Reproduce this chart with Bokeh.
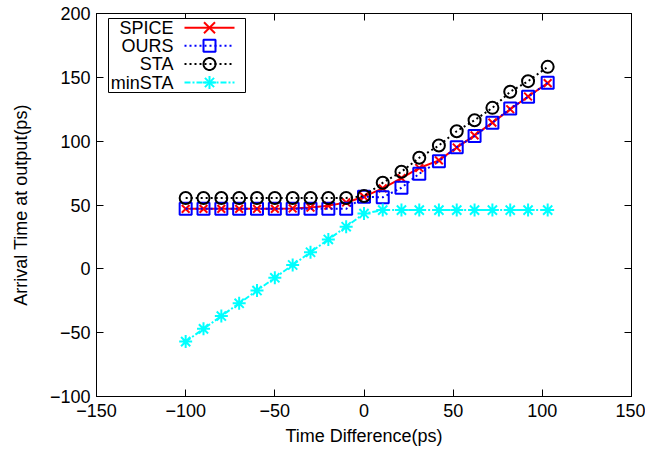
import math
from bokeh.plotting import figure
from bokeh.models import (Range1d, LinearAxis, BoxAnnotation, Arrow, Label,
                          PolyAnnotation, CustomJSTickFormatter, FixedTicker)
from bokeh.embed import file_html
from bokeh.resources import INLINE

# ---------------- data ----------------
time_diff = [-100, -90, -80, -70, -60, -50, -40, -30, -20, -10, 0,
             10.5, 21, 31, 42, 52, 62, 72, 82, 92, 103]
spice = [47, 47, 47, 47, 47, 47, 47.3, 48, 49.5, 52, 56.5,
         63, 71, 79, 85, 95, 104.5, 114.5, 125, 135, 145.5]
ours = [47, 47, 47, 47, 47, 47, 47, 47, 47, 47, 56.5,
        56, 63.5, 74.5, 84.3, 95.3, 104, 114.4, 125.5, 134.7, 145.7]
sta = [55.5, 55.5, 55.5, 55.5, 55.5, 55.5, 55.5, 55.5, 55.5, 55.5, 57,
       67.4, 76, 87, 96.6, 107.8, 116.4, 126.1, 138.7, 147, 158.2]
min_sta = [-57, -47, -37, -27, -17, -7, 3, 13, 23, 33, 43.3,
           46, 46, 46, 46, 46, 46, 46, 46, 46, 46]
series_names = ["SPICE", "OURS", "STA", "minSTA"]
x_ticks = [-150, -100, -50, 0, 50, 100, 150]
y_ticks = [-100, -50, 0, 50, 100, 150, 200]

# ---------------- layout / styles ----------------
FONT = "Liberation Sans"
FS = "18px"
FW, FH = 535, 383
BL, BT, BR, BB = 96, 13, 14, 58
X0, X1, Y0, Y1 = -150, 150, -100, 200

p = figure(frame_width=FW, frame_height=FH,
           x_range=Range1d(X0, X1), y_range=Range1d(Y0, Y1),
           output_backend="svg", toolbar_location=None,
           min_border_left=BL, min_border_top=BT,
           min_border_right=BR, min_border_bottom=BB,
           x_axis_label="Time Difference(ps)",
           y_axis_label="Arrival Time at output(ps)")
p.xgrid.visible = False
p.ygrid.visible = False
p.outline_line_color = "black"
p.outline_line_alpha = 1
p.background_fill_color = "white"
p.border_fill_color = "white"


def style_axis(ax, ticks, show_labels=True):
    ax.ticker = FixedTicker(ticks=ticks)
    ax.axis_line_color = "black"
    ax.axis_line_width = 1
    ax.major_tick_line_color = "black"
    ax.major_tick_line_width = 1
    ax.major_tick_in = 7
    ax.major_tick_out = 0
    ax.minor_tick_line_color = None
    ax.major_label_text_font = FONT
    ax.major_label_text_color = "black"
    if show_labels:
        ax.major_label_text_font_size = FS
    else:
        ax.formatter = CustomJSTickFormatter(code="return ''")
        ax.major_label_text_font_size = "1px"
        ax.major_label_standoff = 0


style_axis(p.xaxis[0], x_ticks)
style_axis(p.yaxis[0], y_ticks)
p.xaxis[0].major_label_standoff = 7
p.yaxis[0].major_label_standoff = 6
for ax in (p.xaxis[0], p.yaxis[0]):
    ax.axis_label_text_font = FONT
    ax.axis_label_text_font_size = FS
    ax.axis_label_text_font_style = "normal"
    ax.axis_label_text_color = "black"
p.xaxis[0].axis_label_standoff = 6
p.yaxis[0].axis_label_standoff = 16

top_ax = LinearAxis()
style_axis(top_ax, x_ticks, show_labels=False)
p.add_layout(top_ax, "above")
right_ax = LinearAxis()
style_axis(right_ax, y_ticks, show_labels=False)
p.add_layout(right_ax, "right")

# ---------------- series ----------------
p.line(time_diff, spice, line_color="red", line_width=2)
p.scatter(time_diff, spice, marker="x", size=11, line_color="red", line_width=2)

p.line(time_diff, ours, line_color="blue", line_width=2, line_dash="2 3")
p.scatter(time_diff, ours, marker="square", size=12, line_color="blue",
          fill_color=None, line_width=2)

p.line(time_diff, sta, line_color="black", line_width=2, line_dash="2 3")
p.scatter(time_diff, sta, marker="circle", size=12, line_color="black",
          fill_color=None, line_width=2)

p.line(time_diff, min_sta, line_color="cyan", line_width=2, line_dash="6 2 2 2")
p.scatter(time_diff, min_sta, marker="asterisk", size=13, line_color="cyan",
          line_width=2)

# ---------------- legend (drawn as annotations, label left of sample) ----------------
# pixel positions below are measured in the reference picture; frame top-left there is (96, 14)
REF_L, REF_T = 96, 14


def xd(px):
    return X0 + (px - REF_L) / FW * (X1 - X0)


def yd(py):
    return Y1 - (py - REF_T) / FH * (Y1 - Y0)


p.add_layout(BoxAnnotation(left=xd(108), right=xd(245), top=yd(19), bottom=yd(93),
                           fill_color="white", fill_alpha=1,
                           line_color="black", line_width=1, line_alpha=1))

leg_rows = [28.3, 46.2, 64.5, 83.0]
leg_colors = ["red", "blue", "black", "cyan"]
leg_dash = ["solid", "2 3", "2 3", "6 2 2 2"]
leg_marker = ["x", "square", "circle", "asterisk"]
SX0, SX1, TX = 184, 234, 173
CX = (SX0 + SX1) / 2


def seg(ax_, ay_, bx_, by_, color, dash="solid", w=2):
    p.add_layout(Arrow(x_start=xd(ax_), y_start=yd(ay_), x_end=xd(bx_), y_end=yd(by_),
                       start=None, end=None, line_color=color, line_width=w,
                       line_dash=dash))


for name, cy, col, dash, mk in zip(series_names, leg_rows, leg_colors, leg_dash, leg_marker):
    p.add_layout(Label(x=xd(TX), y=yd(cy), text=name, text_align="right",
                       text_baseline="middle", text_font=FONT, text_font_size=FS,
                       text_color="black"))
    seg(SX0, cy, SX1, cy, col, dash)
    if mk == "x":
        r = 5.5
        seg(CX - r, cy - r, CX + r, cy + r, col)
        seg(CX - r, cy + r, CX + r, cy - r, col)
    elif mk == "square":
        r = 6
        p.add_layout(BoxAnnotation(left=xd(CX - r), right=xd(CX + r),
                                   top=yd(cy - r), bottom=yd(cy + r),
                                   fill_alpha=0, line_color=col, line_width=2,
                                   line_alpha=1))
    elif mk == "circle":
        r = 6
        angs = [2 * math.pi * k / 36 for k in range(36)]
        p.add_layout(PolyAnnotation(xs=[xd(CX + r * math.cos(a)) for a in angs],
                                    ys=[yd(cy + r * math.sin(a)) for a in angs],
                                    fill_alpha=0, line_color=col, line_width=2,
                                    line_alpha=1))
    else:
        r = 6.5
        d = r * 0.7071
        seg(CX - r, cy, CX + r, cy, col)
        seg(CX, cy - r, CX, cy + r, col)
        seg(CX - d, cy - d, CX + d, cy + d, col)
        seg(CX - d, cy + d, CX + d, cy - d, col)

open("out.html", "w").write(file_html(p, INLINE))
